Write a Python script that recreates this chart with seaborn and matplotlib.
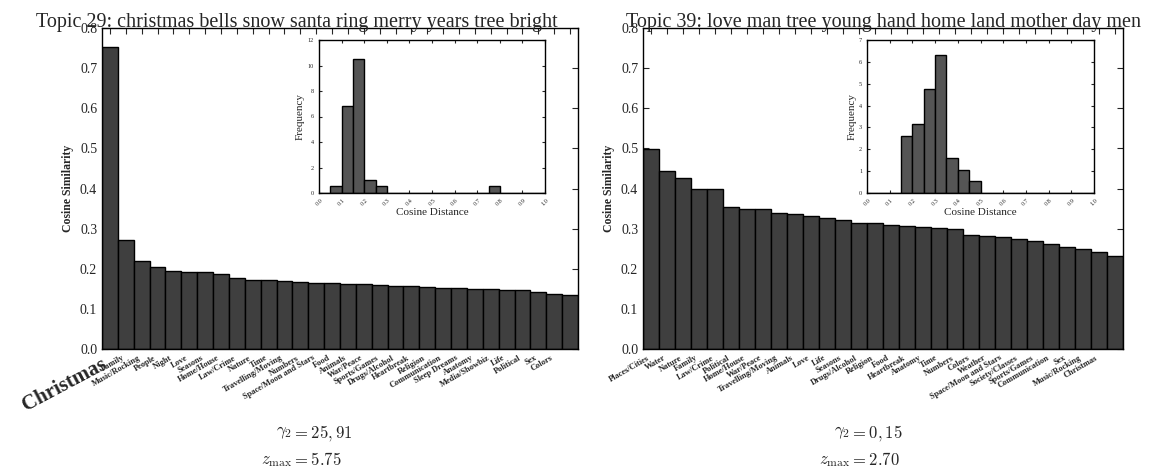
import numpy as np
import matplotlib
matplotlib.use("Agg")
import matplotlib.pyplot as plt
import seaborn as sns

# left panel, topic 29
left_title = "Topic 29: christmas bells snow santa ring merry years tree bright"
left_categories = ["Christmas", "Family", "Music/Rocking", "People", "Night", "Love",
                   "Seasons", "Home/House", "Law/Crime", "Nature", "Time",
                   "Travelling/Moving", "Numbers", "Space/Moon and Stars", "Food",
                   "Animals", "War/Peace", "Sports/Games", "Drugs/Alcohol",
                   "Heartbreak", "Religion", "Communication", "Sleep Dreams",
                   "Anatomy", "Media/Showbiz", "Life", "Political", "Sex", "Colors", ""]
left_similarity = [0.752, 0.271, 0.219, 0.205, 0.195, 0.193, 0.192, 0.188, 0.176, 0.172,
                   0.171, 0.169, 0.167, 0.165, 0.164, 0.163, 0.162, 0.159, 0.158, 0.157,
                   0.154, 0.151, 0.151, 0.150, 0.149, 0.148, 0.146, 0.142, 0.137, 0.134]
left_hist_bins = [0.05, 0.10, 0.15, 0.20, 0.25, 0.75]
left_hist_freq = [0.53, 6.84, 10.53, 1.05, 0.53, 0.53]
left_gamma = r"$\gamma_2 = 25,91$"
left_zmax = r"$z_{\max} = 5.75$"

# right panel, topic 39
right_title = "Topic 39: love man tree young hand home land mother day men"
right_categories = ["Places/Cities", "Water", "Nature", "Family", "Law/Crime", "Political",
                    "Home/House", "War/Peace", "Travelling/Moving", "Animals", "Love",
                    "Life", "Seasons", "Drugs/Alcohol", "Religion", "Food", "Heartbreak",
                    "Anatomy", "Time", "Numbers", "Colors", "Weather",
                    "Space/Moon and Stars", "Society/Classes", "Sports/Games",
                    "Communication", "Sex", "Music/Rocking", "Christmas", ""]
right_similarity = [0.498, 0.443, 0.427, 0.398, 0.398, 0.353, 0.350, 0.350, 0.340, 0.337,
                    0.331, 0.327, 0.322, 0.313, 0.313, 0.309, 0.306, 0.304, 0.301, 0.300,
                    0.285, 0.282, 0.278, 0.275, 0.268, 0.262, 0.255, 0.250, 0.241, 0.233]
right_hist_bins = [0.15, 0.20, 0.25, 0.30, 0.35, 0.40, 0.45]
right_hist_freq = [2.63, 3.16, 4.74, 6.32, 1.58, 1.05, 0.53]
right_gamma = r"$\gamma_2 = 0,15$"
right_zmax = r"$z_{\max} = 2.70$"

BIN_W = 0.05
BAR_COLOR = "#3f3f3f"
HIST_COLOR = "#555555"


def style_ticks(ax, size, length):
    ax.tick_params(direction="in", top=True, right=True, length=length,
                   width=0.8, labelsize=size)
    for s in ax.spines.values():
        s.set_linewidth(1.0)
        s.set_color("black")


def draw_panel(fig, rect, inset_rect, title, title_x, cats, sims, hbins, hfreq,
               ymax_hist, big_first, gamma, zmax, eq_x):
    ax = fig.add_axes(rect)
    sns.barplot(x=list(range(len(cats))), y=sims, color=BAR_COLOR, edgecolor="black",
                linewidth=1.0, width=1.0, saturation=1, ax=ax)
    ax.set_xlim(-0.5, len(cats) - 0.5)
    ax.set_ylim(0, 0.8)
    ax.set_yticks(np.arange(0, 0.81, 0.1))
    ax.set_yticklabels([f"{v:.1f}" for v in np.arange(0, 0.81, 0.1)])
    style_ticks(ax, 10, 4)
    ax.set_xticks(range(len(cats)))
    ax.set_xticklabels(cats, rotation=30, ha="right", fontsize=6, fontweight="bold")
    if big_first:
        lab = ax.get_xticklabels()[0]
        lab.set_fontsize(15)
        lab.set_rotation(28)
    ax.set_ylabel("Cosine Similarity", fontsize=8.5, fontweight="bold")
    ax.set_xlabel("")
    ax.set_title(title, fontsize=14.5, x=title_x, pad=1)

    # inset histogram
    axi = fig.add_axes(inset_rect)
    centers = [b + BIN_W / 2 for b in hbins]
    sns.histplot(x=centers, weights=hfreq, binwidth=BIN_W, binrange=(0, 1),
                 color=HIST_COLOR, edgecolor="black", linewidth=1.0, alpha=1, ax=axi)
    axi.set_xlim(0, 1)
    axi.set_ylim(0, ymax_hist)
    axi.set_xticks(np.arange(0, 1.01, 0.1))
    axi.set_xticklabels([f"{v:.1f}" for v in np.arange(0, 1.01, 0.1)], rotation=45)
    style_ticks(axi, 4.5, 2.5)
    axi.set_xlabel("Cosine Distance", fontsize=8, labelpad=1)
    axi.set_ylabel("Frequency", fontsize=8, labelpad=2)

    fig.text(eq_x, 0.088, gamma.split("=")[0] + "$", fontsize=12, ha="right", va="center")
    fig.text(eq_x, 0.088, "$=" + gamma.split("=")[1], fontsize=12, ha="left", va="center")
    fig.text(eq_x, 0.030, zmax.split("=")[0] + "$", fontsize=12, ha="right", va="center")
    fig.text(eq_x, 0.030, "$=" + zmax.split("=")[1], fontsize=12, ha="left", va="center")
    return ax


def main():
    sns.set_style("ticks")
    plt.rcParams["font.family"] = ["Liberation Serif", "DejaVu Serif"]
    plt.rcParams["mathtext.fontset"] = "cm"

    fig = plt.figure(figsize=(11.59, 4.75), dpi=100)
    W, H = 1159, 475

    draw_panel(fig, [102 / W, 126 / H, 476 / W, 321 / H],
               [319 / W, 282 / H, 226 / W, 153 / H],
               left_title, 0.41, left_categories, left_similarity,
               left_hist_bins, left_hist_freq, 12, True,
               left_gamma, left_zmax, 292 / W)
    draw_panel(fig, [643 / W, 126 / H, 480 / W, 321 / H],
               [867 / W, 282 / H, 227 / W, 153 / H],
               right_title, 0.5, right_categories, right_similarity,
               right_hist_bins, right_hist_freq, 7, False,
               right_gamma, right_zmax, 850 / W)

    fig.savefig("out.png", dpi=100)
    plt.close(fig)


if __name__ == "__main__":
    main()
